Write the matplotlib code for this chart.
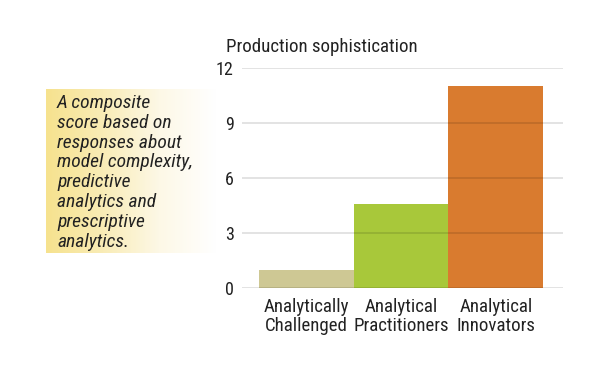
import numpy as np
import matplotlib
matplotlib.use("Agg")
from matplotlib import pyplot as plt
from matplotlib.colors import LinearSegmentedColormap

plt.rcParams['font.family'] = ['Roboto Condensed', 'DejaVu Sans']

categories = ["Analytically\nChallenged", "Analytical\nPractitioners", "Analytical\nInnovators"]
values = [1.0, 4.6, 11.0]
bar_colors = ["#cec894", "#a8c83a", "#d97b2f"]
yticks = [0, 3, 6, 9, 12]
title = "Production sophistication"
note = ("A composite\nscore based on\nresponses about\nmodel complexity,\n"
        "predictive\nanalytics and\nprescriptive\nanalytics.")

fig = plt.figure(figsize=(6, 3.76), dpi=100)

# yellow note box, fading to white on the right
box = fig.add_axes([46/600, 1-253/376, 170/600, 164/376])
grad = np.linspace(0, 1, 256).reshape(1, -1)
cmap = LinearSegmentedColormap.from_list("note", ["#f6e28e", "#f9ecb6", "#fdf8e6", "#ffffff"])
box.imshow(grad, aspect="auto", cmap=cmap, extent=[0, 1, 0, 1])
box.set_axis_off()
fig.text(57/600, 1-94/376, note, ha="left", va="top", fontsize=14,
         style="italic", linespacing=1.13, color="#222222")

ax = fig.add_axes([242/600, 1-288/376, 321/600, 220/376])
x = np.arange(len(values))
ax.bar(x, values, width=1.0, color=bar_colors, zorder=1)
ax.set_xlim(-0.68, 2.71)
ax.set_ylim(0, 12)
ax.set_yticks(yticks)
ax.set_yticklabels([str(t) for t in yticks], fontsize=13, color="#222222")
for t in yticks:
    ax.axhline(t, color="#000000", alpha=0.13, lw=1.2, zorder=2)
ax.set_xticks(x)
ax.set_xticklabels(categories, fontsize=13.6, color="#222222", linespacing=1.1)
ax.tick_params(length=0, pad=7)
ax.tick_params(axis="y", pad=6)
for s in ax.spines.values():
    s.set_visible(False)
fig.text(226/600, 1-47/376, title, ha="left", va="center", fontsize=13.6, color="#222222")

fig.savefig("out.png", dpi=100)
